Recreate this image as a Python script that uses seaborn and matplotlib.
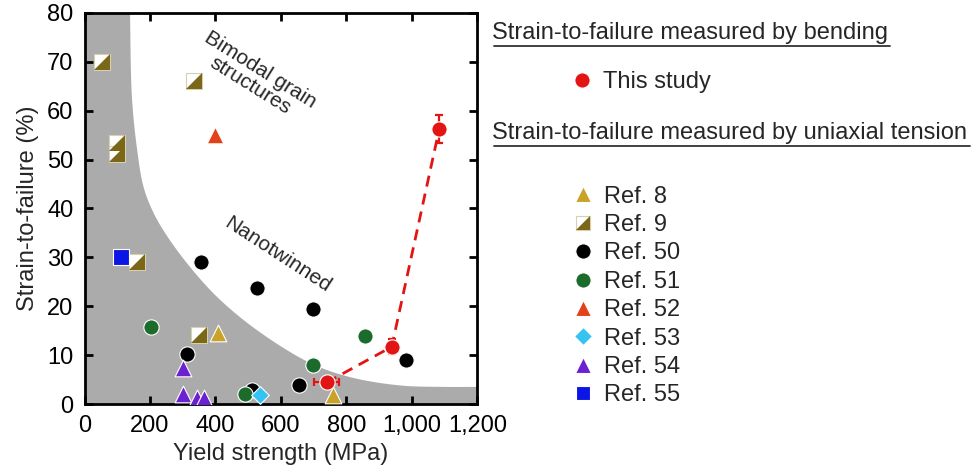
import numpy as np
import matplotlib
matplotlib.use("Agg")
import matplotlib.pyplot as plt
import pandas as pd
import seaborn as sns
from matplotlib.lines import Line2D
from matplotlib.path import Path
from matplotlib.legend_handler import HandlerTuple

# Yield strength (MPa) and strain-to-failure (%) by literature source
ref8_x = [408, 758]
ref8_y = [14.5, 1.8]
ref9_x = [52, 100, 100, 159, 335, 350]
ref9_y = [70.0, 53.4, 51.1, 29.0, 66.0, 14.1]
ref50_x = [314, 355, 512, 526, 656, 699, 982]
ref50_y = [10.2, 29.1, 2.9, 23.7, 3.9, 19.5, 9.0]
ref51_x = [202, 490, 699, 856]
ref51_y = [15.7, 2.0, 8.0, 13.9]
ref52_x = [398]
ref52_y = [55.0]
ref53_x = [536]
ref53_y = [1.8]
ref54_x = [300, 300, 342, 366]
ref54_y = [7.4, 2.0, 1.2, 1.3]
ref55_x = [110]
ref55_y = [30.0]

# Bending results of this work
study_x = [739, 938, 1083]
study_y = [4.4, 11.7, 56.2]
study_xerr = [38, 0, 0]
study_yerr = [0, 1.5, 2.9]

# Upper edge of the shaded band of conventional materials
band_x = [136, 139, 145, 160, 180, 208, 246, 313, 405, 527, 689, 811, 963, 1100, 1200]
band_y = [95, 80, 62.6, 52.4, 44.5, 39.5, 35.0, 28.8, 21.9, 15.1, 8.4, 5.5, 3.8, 3.5, 3.5]

labels = ["Ref. 8", "Ref. 9", "Ref. 50", "Ref. 51", "Ref. 52", "Ref. 53", "Ref. 54", "Ref. 55"]

C_GOLD = "#C9A227"
C_OLIVE = "#7B6718"
C_BLACK = "#000000"
C_GREEN = "#1B6B2C"
C_ORANGE = "#E2411A"
C_CYAN = "#35C4F2"
C_PURPLE = "#6B21D2"
C_BLUE = "#0B16E6"
C_RED = "#E31414"
C_BAND = "#ABABAB"

sns.set_theme(style="ticks")
plt.rcParams["font.family"] = ["Liberation Sans", "DejaVu Sans"]

fig = plt.figure(figsize=(9.76, 4.73), dpi=100)
W, H = 976, 473
ax = fig.add_axes([84.5 / W, 1 - 404 / H, (477.5 - 84.5) / W, (404 - 13) / H])


def smooth_edge(xs, ys, n=40, alpha=0.5):
    """Centripetal Catmull-Rom curve through the given points."""
    P = np.column_stack([np.asarray(xs, float) / 1200.0, np.asarray(ys, float) / 80.0])
    P = np.vstack([P[0] * 2 - P[1], P, P[-1] * 2 - P[-2]])
    out = []
    for i in range(1, len(P) - 2):
        p0, p1, p2, p3 = P[i - 1], P[i], P[i + 1], P[i + 2]
        t0 = 0.0
        t1 = t0 + np.linalg.norm(p1 - p0) ** alpha
        t2 = t1 + np.linalg.norm(p2 - p1) ** alpha
        t3 = t2 + np.linalg.norm(p3 - p2) ** alpha
        t = np.linspace(t1, t2, n, endpoint=False)[:, None]
        a1 = (t1 - t) / (t1 - t0) * p0 + (t - t0) / (t1 - t0) * p1
        a2 = (t2 - t) / (t2 - t1) * p1 + (t - t1) / (t2 - t1) * p2
        a3 = (t3 - t) / (t3 - t2) * p2 + (t - t2) / (t3 - t2) * p3
        b1 = (t2 - t) / (t2 - t0) * a1 + (t - t0) / (t2 - t0) * a2
        b2 = (t3 - t) / (t3 - t1) * a2 + (t - t1) / (t3 - t1) * a3
        out.append((t2 - t) / (t2 - t1) * b1 + (t - t1) / (t2 - t1) * b2)
    out.append(P[-2][None, :])
    out = np.vstack(out)
    return out[:, 0] * 1200.0, out[:, 1] * 80.0


bx, by = smooth_edge(band_x, band_y)
poly_x = np.concatenate([[0, 0], bx, [1200]])
poly_y = np.concatenate([[0, 100], by, [0]])
ax.fill(poly_x, poly_y, color=C_BAND, lw=0, zorder=0)

# Lower-right half of a square, for the split-square marker
half_tri = Path([(-1, -1), (1, -1), (1, 1), (-1, -1)],
                [Path.MOVETO, Path.LINETO, Path.LINETO, Path.CLOSEPOLY])

ms_circle = 11
edge = dict(edgecolor="white", linewidth=0.8)


def scatter(xs, ys, marker, color, size, z=3, **kw):
    df = pd.DataFrame({"x": xs, "y": ys})
    opts = dict(edge)
    opts.update(kw)
    sns.scatterplot(data=df, x="x", y="y", marker=marker, color=color, s=size ** 2,
                    ax=ax, zorder=z, legend=False, **opts)


scatter(ref8_x, ref8_y, "^", C_GOLD, 12)
scatter(ref9_x, ref9_y, "s", "white", 11, edgecolor="#D8CFB0")
scatter(ref9_x, ref9_y, half_tri, C_OLIVE, 11, z=3.1, linewidth=0)
scatter(ref50_x, ref50_y, "o", C_BLACK, ms_circle)
scatter(ref51_x, ref51_y, "o", C_GREEN, ms_circle)
scatter(ref52_x, ref52_y, "^", C_ORANGE, 12)
scatter(ref53_x, ref53_y, "D", C_CYAN, 9)
scatter(ref54_x, ref54_y, "^", C_PURPLE, 12)
scatter(ref55_x, ref55_y, "s", C_BLUE, 11)

# This study: dashed trend with error bars
ax.plot(study_x, study_y, ls=(0, (4, 2.6)), color=C_RED, lw=2.0, zorder=4)
ax.errorbar(study_x, study_y, xerr=study_xerr, yerr=study_yerr, fmt="none",
            ecolor=C_RED, elinewidth=1.6, capsize=3, capthick=1.6, zorder=4.5)
scatter(study_x, study_y, "o", C_RED, ms_circle, z=5)

ax.set_xlim(0, 1200)
ax.set_ylim(0, 80)
ax.set_xticks(np.arange(0, 1201, 200))
ax.set_xticklabels(["0", "200", "400", "600", "800", "1,000", "1,200"])
ax.set_yticks(np.arange(0, 81, 10))
ax.tick_params(direction="in", top=True, right=True, length=6, width=2,
               labelsize=17, pad=8, colors="black")
for sp in ax.spines.values():
    sp.set_linewidth(2.0)
    sp.set_color("black")
ax.set_xlabel("Yield strength (MPa)", fontsize=17, labelpad=4)
ax.set_ylabel("Strain-to-failure (%)", fontsize=17, labelpad=6)

ax.text(521, 66.7, "Bimodal grain\nstructures", rotation=-32, fontsize=15,
        ha="center", va="center", multialignment="center", rotation_mode="anchor",
        linespacing=1.0, zorder=6)
ax.text(591, 30.5, "Nanotwinned", rotation=-33, fontsize=15,
        ha="center", va="center", rotation_mode="anchor", zorder=6)


def fx(px):
    return px / W


def fy(py):
    return 1 - py / H


# Legend headers with underlines
fig.text(fx(492), fy(33), "Strain-to-failure measured by bending", fontsize=17,
         ha="left", va="center")
fig.add_artist(Line2D([fx(494), fx(890)], [fy(46), fy(46)], color="#333333", lw=1.3))
fig.text(fx(492), fy(133), "Strain-to-failure measured by uniaxial tension", fontsize=17,
         ha="left", va="center")
fig.add_artist(Line2D([fx(494), fx(970)], [fy(146), fy(146)], color="#333333", lw=1.3))


def handle(marker, color, size, ec="white", mew=0.8):
    return Line2D([], [], ls="none", marker=marker, markersize=size,
                  markerfacecolor=color, markeredgecolor=ec, markeredgewidth=mew)


study_handle = handle("o", C_RED, 11)
fig.legend([study_handle], ["This study"], loc="center left",
           bbox_to_anchor=(fx(570), fy(82)), frameon=False, fontsize=17,
           handlelength=1.0, handletextpad=0.4, borderpad=0, borderaxespad=0)

ref_handles = [
    handle("^", C_GOLD, 11),
    (handle("s", "white", 10, ec="#D8CFB0"), handle(half_tri, C_OLIVE, 10, mew=0)),
    handle("o", C_BLACK, 11),
    handle("o", C_GREEN, 11),
    handle("^", C_ORANGE, 11),
    handle("D", C_CYAN, 9),
    handle("^", C_PURPLE, 11),
    handle("s", C_BLUE, 10),
]
fig.legend(ref_handles, labels, loc="center left",
           bbox_to_anchor=(fx(571), fy(296)), frameon=False, fontsize=17,
           handlelength=1.0, handletextpad=0.4, borderpad=0, borderaxespad=0,
           labelspacing=0.27, handler_map={tuple: HandlerTuple(ndivide=1)})

fig.savefig("out.png", dpi=100)
